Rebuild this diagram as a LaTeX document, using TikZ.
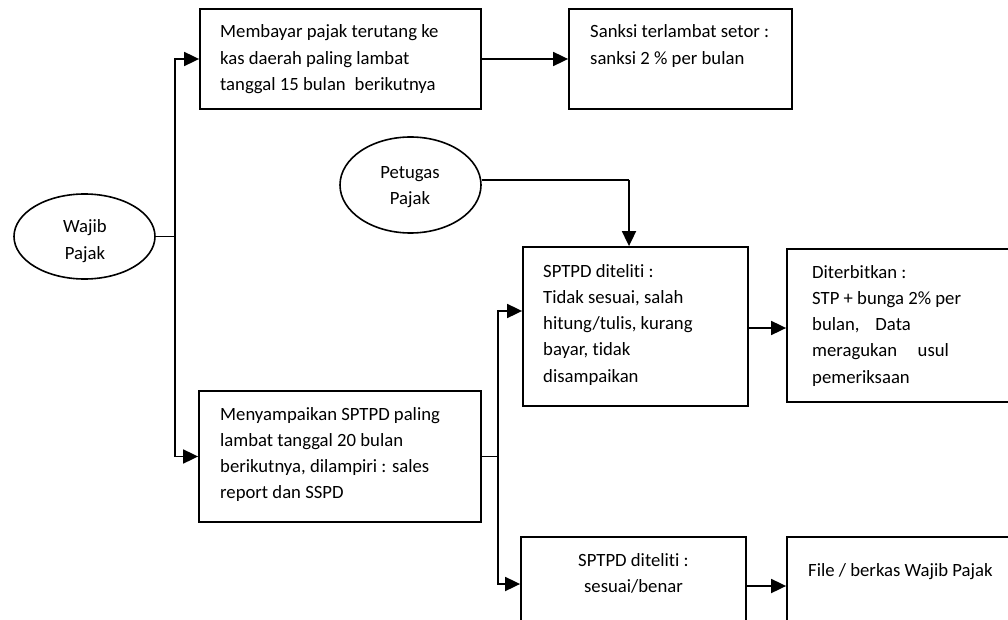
\documentclass[tikz,border=0pt]{standalone}
\usepackage{fontspec}
\setmainfont{Carlito}[Ligatures=CommonOff]
\usetikzlibrary{arrows.meta,shapes.geometric}
\begin{document}
\begin{tikzpicture}[x=1pt,y=-1pt,
  box/.style={draw,line width=1.8pt,rectangle,inner sep=0pt},
  oval/.style={draw,line width=1.6pt,ellipse,inner sep=0pt},
  txt/.style={inner sep=0pt,anchor=base west,text width=#1,font=\fontsize{18.7}{26.3}\selectfont,execute at begin node={\spaceskip=0pt\xspaceskip=0pt\relax}},
  ctxt/.style={inner sep=0pt,anchor=base,text width=#1,font=\fontsize{18.7}{26.3}\selectfont,execute at begin node={\centering\spaceskip=0pt\xspaceskip=0pt\relax}},
  arr/.style={-{Triangle[length=15pt,width=14pt]},line width=1.8pt},
  ln/.style={line width=1.8pt},
  thin/.style={line width=1.3pt}]
\useasboundingbox (0,0) rectangle (1008,620);
\clip (0,0) rectangle (1008,620);
\fill[white] (0,0) rectangle (1008,620);
% shapes
\node[oval,minimum width=141pt,minimum height=85pt] (wp) at (84.5,236.5) {};
\node[oval,minimum width=141pt,minimum height=96pt] (pp) at (410.5,185) {};
\node[box,minimum width=281pt,minimum height=100pt] (b1) at (340.5,59) {};
\node[box,minimum width=223pt,minimum height=100pt] (b2) at (680.5,59) {};
\node[box,minimum width=225pt,minimum height=159pt] (b3) at (635.5,326.5) {};
\node[box,minimum width=243pt,minimum height=153pt] (b4) at (908.5,325.5) {};
\node[box,minimum width=282pt,minimum height=131pt] (b5) at (340,456.5) {};
\node[box,minimum width=225pt,minimum height=113pt] (b6) at (633.5,593.5) {};
\node[box,minimum width=243pt,minimum height=113pt] (b7) at (908.5,593.5) {};
% texts
\node[ctxt=120pt] (twp) at (85,233) {Wajib\\Pajak};
\node[ctxt=120pt] (tpp) at (410,178.5) {Petugas\\Pajak};
\node[txt=260pt] (tb1) at (220,38) {Membayar pajak terutang ke\\kas daerah paling lambat\\tanggal 15 bulan\hspace{0.25em} berikutnya};
\node[txt=200pt] (tb2) at (590,38) {Sanksi terlambat setor :\\sanksi 2 \% per bulan};
\node[txt=200pt] (tb3) at (543,277) {SPTPD diteliti :\\Tidak sesuai, salah\\hitung/tulis, kurang\\bayar, tidak\\disampaikan};
\node[txt=190pt] (tb4) at (812,278) {Diterbitkan :\\STP + bunga 2\% per\\bulan,\hspace{0.85em}Data\\meragukan\hspace{1.1em}usul\\pemeriksaan};
\node[txt=260pt] (tb5) at (220,420) {Menyampaikan SPTPD paling\\lambat tanggal 20 bulan\\berikutnya, dilampiri : sales\\report dan SSPD};
\node[ctxt=200pt] (tb6) at (633.5,566) {SPTPD diteliti :\\sesuai/benar};
\node[txt=200pt] (tb7) at (808,576) {File / berkas Wajib Pajak};
% junctions
\coordinate (j1) at (175,236.5);
\coordinate (j2) at (498,456.5);
\coordinate (k) at (629,180);
% connectors
\draw[thin] (wp.east) -- (j1);
\draw[arr] (j1) |- (b1.west);
\draw[arr] (j1) |- (b5.west);
\draw[arr] (b1.east) -- (b2.west);
\draw[ln] (pp.east |- k) -- (k);
\draw[arr] (k) -- (k |- b3.north);
\draw[thin] (b5.east) -- (j2);
\draw[arr] (j2) |- (b3.west |- 0,311);
\draw[arr] (j2) |- (b6.west |- 0,584);
\draw[arr] (b3.east |- 0,328) -- (b4.west |- 0,328);
\draw[arr] (b6.east |- 0,586) -- (b7.west |- 0,586);
\end{tikzpicture}
\end{document}
